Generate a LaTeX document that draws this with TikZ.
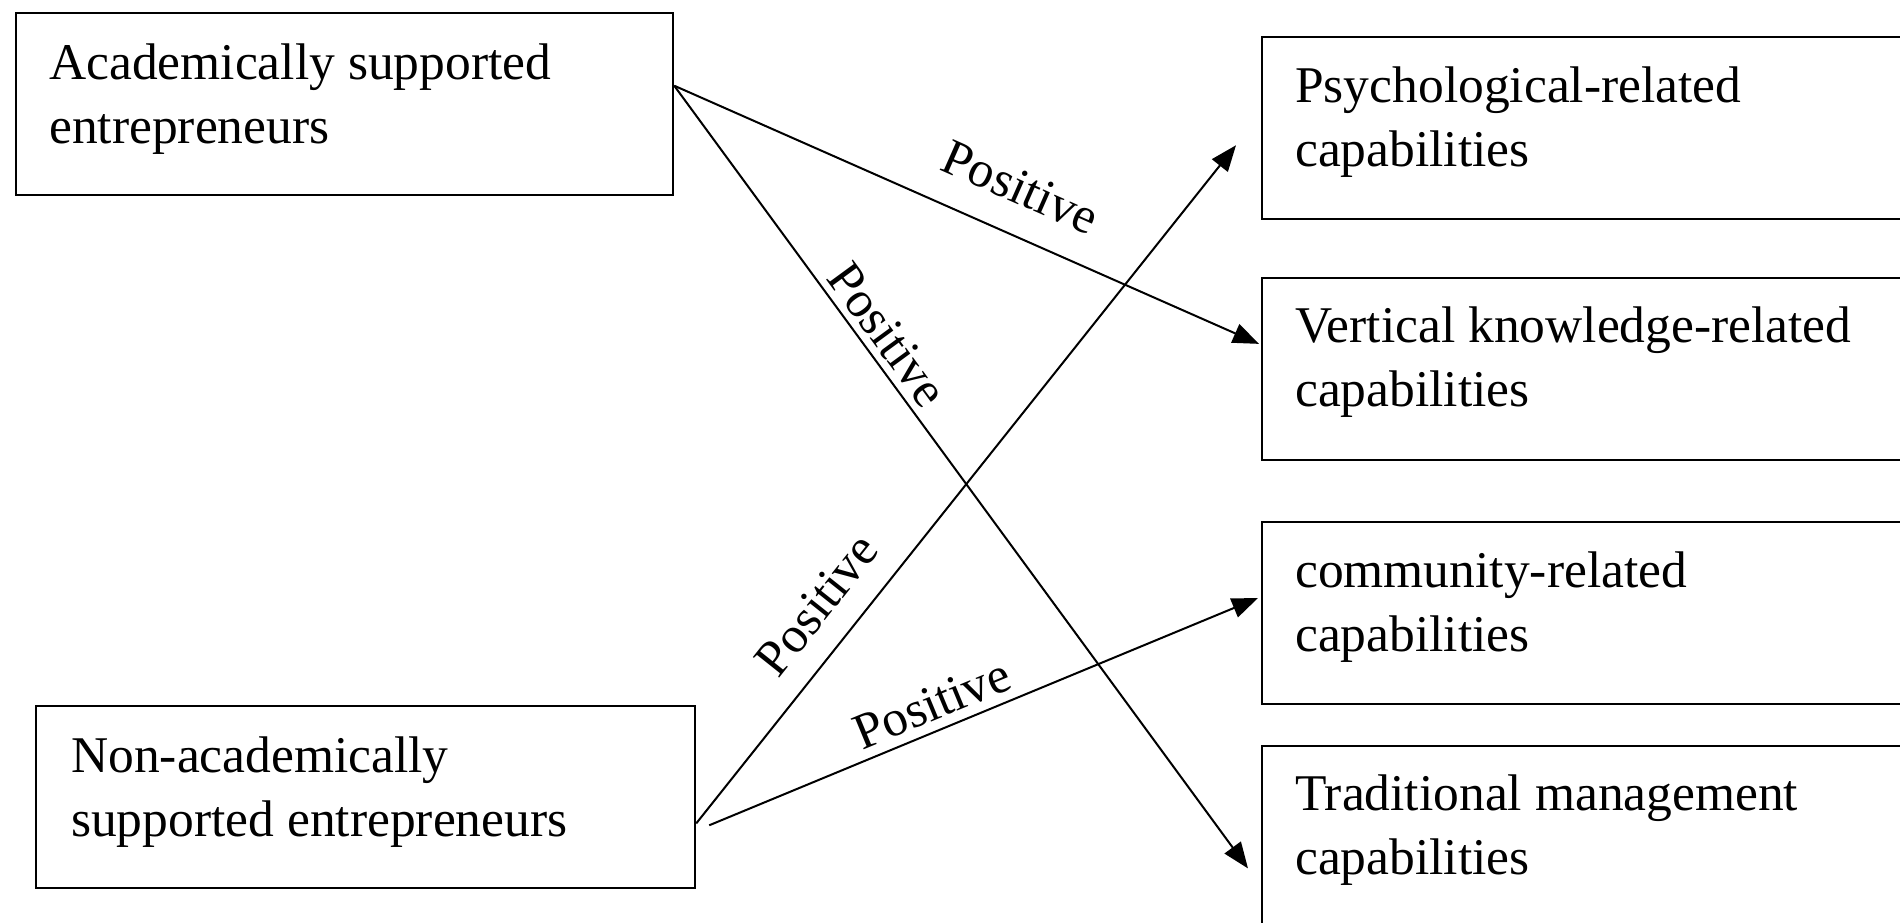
\documentclass[tikz,border=0pt]{standalone}
\usepackage{fontspec}
\setmainfont{Liberation Serif}
\usetikzlibrary{arrows.meta,calc}
\begin{document}
\begin{tikzpicture}[x=1pt,y=-1pt,
  box/.style={draw, line width=2.2pt, rectangle, inner sep=0pt, minimum height=182pt, anchor=north west},
  boxtext/.style={anchor=north west, inner sep=0pt, align=left, font=\fontsize{51.5}{64}\selectfont},
  conn/.style={line width=2pt, -{Triangle[length=26pt,width=20pt]}},
  lbl/.style={sloped, anchor=center, inner sep=0pt, font=\fontsize{51}{60}\selectfont}]
\useasboundingbox (0,0) rectangle (1900,922);
\clip (0,0) rectangle (1900,922);
\fill[white] (0,0) rectangle (1900,922);

\node[box, minimum width=657.5pt] (A) at (14.5,12) {};
\node[box, minimum width=659pt] (B) at (35,705) {};
\node[box, minimum width=700pt] (P) at (1261,36) {};
\node[box, minimum width=700pt] (V) at (1261,277) {};
\node[box, minimum width=700pt] (C) at (1261,521) {};
\node[box, minimum width=700pt] (T) at (1261,745) {};

\node[boxtext] (At) at (49,39) {\rule{0pt}{40pt}Academically supported\\entrepreneurs};
\node[boxtext] (Bt) at (71,732) {\rule{0pt}{40pt}Non-academically\\supported entrepreneurs};
\node[boxtext] (Pt) at (1295,62) {\rule{0pt}{40pt}Psychological-related\\capabilities};
\node[boxtext] (Vt) at (1295,302) {\rule{0pt}{40pt}Vertical knowledge-related\\capabilities};
\node[boxtext] (Ct) at (1295,547) {\rule{0pt}{40pt}community-related\\capabilities};
\node[boxtext] (Tt) at (1295,770) {\rule{0pt}{40pt}Traditional management\\capabilities};

\coordinate (a1) at ($(A.north east)!0.4!(A.south east)$);
\coordinate (b3) at ($(B.north east)!0.643!(B.south east)$);
\coordinate (b4) at ($(B.north east)!0.653!(B.south east)+(13,0)$);
\coordinate (pe) at ($(P.north west)!0.593!(P.south west)+(-25,0)$);
\coordinate (ve) at ($(V.north west)!0.363!(V.south west)+(-2,0)$);
\coordinate (ce) at ($(C.north west)!0.418!(C.south west)+(-3,0)$);
\coordinate (te) at ($(T.north west)!0.67!(T.south west)+(-13,0)$);

\draw[conn] (a1) -- node[lbl, pos=.56, yshift=47pt] (l1) {Positive} (ve);
\draw[conn] (a1) -- node[lbl, pos=.337, yshift=25pt] (l2) {Positive} (te);
\draw[conn] (b3) -- node[lbl, pos=.284, yshift=42pt] (l3) {Positive} (pe);
\draw[conn] (b4) -- node[lbl, pos=.425, yshift=27pt] (l4) {Positive} (ce);
\end{tikzpicture}
\end{document}
